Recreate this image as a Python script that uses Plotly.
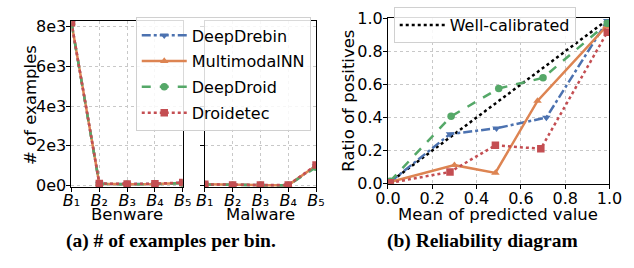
import plotly.graph_objects as go

# ---------------- data ----------------
bins = [1, 2, 3, 4, 5]
bin_labels = ["<i>B</i>₁", "<i>B</i>₂", "<i>B</i>₃", "<i>B</i>₄", "<i>B</i>₅"]
models = ["DeepDrebin", "MultimodalNN", "DeepDroid", "Droidetec"]

benware_counts = {
    "DeepDrebin":   [8200, 90, 70, 80, 130],
    "MultimodalNN": [8200, 90, 70, 80, 130],
    "DeepDroid":    [8150, 80, 60, 70, 120],
    "Droidetec":    [8200, 100, 80, 90, 150],
}
malware_counts = {
    "DeepDrebin":   [60, 25, 20, 20, 980],
    "MultimodalNN": [60, 25, 20, 20, 1000],
    "DeepDroid":    [50, 20, 15, 15, 920],
    "Droidetec":    [60, 30, 25, 25, 1030],
}

rel_x = {
    "DeepDrebin":   [0.01, 0.28, 0.49, 0.715, 0.99],
    "MultimodalNN": [0.01, 0.30, 0.485, 0.675, 0.985],
    "DeepDroid":    [0.01, 0.285, 0.50, 0.70, 0.99],
    "Droidetec":    [0.01, 0.28, 0.485, 0.69, 0.99],
}
rel_y = {
    "DeepDrebin":   [0.01, 0.30, 0.335, 0.40, 0.985],
    "MultimodalNN": [0.01, 0.112, 0.065, 0.50, 0.95],
    "DeepDroid":    [0.015, 0.407, 0.576, 0.64, 0.97],
    "Droidetec":    [0.005, 0.071, 0.232, 0.211, 0.916],
}
calib = [0.0, 1.0]

count_ticks = [0, 2000, 4000, 6000, 8000]
count_tick_text = ["0e0", "2e3", "4e3", "6e3", "8e3"]
ratio_ticks = [0.0, 0.2, 0.4, 0.6, 0.8, 1.0]
ratio_tick_text = ["0.0", "0.2", "0.4", "0.6", "0.8", "1.0"]

# ---------------- styles ----------------
colors = {"DeepDrebin": "#4C72B0", "MultimodalNN": "#DD8452",
          "DeepDroid": "#55A868", "Droidetec": "#C44E52"}
dashes = {"DeepDrebin": "dashdot", "MultimodalNN": "solid",
          "DeepDroid": "dash", "Droidetec": "dot"}
symbols = {"DeepDrebin": "triangle-down", "MultimodalNN": "triangle-up",
           "DeepDroid": "circle", "Droidetec": "square"}

FONT = "DejaVu Sans"
W, H = 634, 268

fig = go.Figure()

for m in models:
    common = dict(mode="lines+markers",
                  line=dict(color=colors[m], dash=dashes[m], width=2.5),
                  marker=dict(color=colors[m], symbol=symbols[m], size=7.5))
    fig.add_trace(go.Scatter(x=bins, y=benware_counts[m], name=m, legend="legend",
                             legendgroup=m, xaxis="x", yaxis="y", showlegend=True, **common))
    fig.add_trace(go.Scatter(x=bins, y=malware_counts[m], name=m, legend="legend",
                             legendgroup=m, xaxis="x2", yaxis="y2", showlegend=False, **common))

fig.add_trace(go.Scatter(x=calib, y=calib, name="Well-calibrated", mode="lines",
                         line=dict(color="black", dash="dot", width=2.5),
                         xaxis="x3", yaxis="y3", legend="legend2"))
for m in models:
    fig.add_trace(go.Scatter(x=rel_x[m], y=rel_y[m], name=m, mode="lines+markers",
                             line=dict(color=colors[m], dash=dashes[m], width=2.5),
                             marker=dict(color=colors[m], symbol=symbols[m], size=7.5),
                             xaxis="x3", yaxis="y3", showlegend=False))

def px_x(a, b):
    return [a / W, b / W]

def px_y(top, bottom):
    return [(H - bottom) / H, (H - top) / H]

def fx(px):
    return px / W

def fy(py):
    return (H - py) / H

axis_common = dict(showline=True, linecolor="black", linewidth=1.2, mirror=True,
                   ticks="outside", ticklen=4, tickcolor="black",
                   showgrid=True, gridcolor="#c8c8c8", griddash="dot", gridwidth=1,
                   zeroline=False, tickfont=dict(size=16, family=FONT, color="black"))

ylo, yhi = -94, 8280

title_font = dict(family=FONT, size=16.5, color="black")
annotations = [
    dict(text="Benware", x=fx(119), y=fy(221)),
    dict(text="Malware", x=fx(258), y=fy(221)),
    dict(text="Mean of predicted value", x=fx(506), y=fy(221)),
    dict(text="# of examples", x=fx(18), y=fy(103), textangle=-90),
    dict(text="Ratio of positives", x=fx(350), y=fy(99), textangle=-90),
]
for a in annotations:
    a.update(xref="paper", yref="paper", showarrow=False, xanchor="center",
             yanchor="middle", font=title_font)

cap_font = dict(family="Liberation Serif", size=19.5, color="black")
annotations += [
    dict(text="<b>(a) # of examples per bin.</b>", x=fx(165), y=fy(250),
         xref="paper", yref="paper", showarrow=False, xanchor="center", yanchor="middle",
         font=cap_font),
    dict(text="<b>(b) Reliability diagram</b>", x=fx(490), y=fy(250),
         xref="paper", yref="paper", showarrow=False, xanchor="center", yanchor="middle",
         font=cap_font),
]

fig.update_layout(
    width=W, height=H, margin=dict(l=0, r=0, t=0, b=0),
    paper_bgcolor="white", plot_bgcolor="white",
    font=dict(family=FONT, size=16, color="black"),
    xaxis=dict(domain=px_x(61, 177), range=[1, 5], tickvals=bins, ticktext=bin_labels,
               anchor="y", ticklabelstandoff=-6, **axis_common),
    yaxis=dict(domain=px_y(13, 192), range=[ylo, yhi], tickvals=count_ticks,
               ticktext=count_tick_text, anchor="x", ticklabelstandoff=-3, **axis_common),
    xaxis2=dict(domain=px_x(200, 316), range=[1, 5], tickvals=bins, ticktext=bin_labels,
                anchor="y2", ticklabelstandoff=-6, **axis_common),
    yaxis2=dict(domain=px_y(13, 192), range=[ylo, yhi], tickvals=count_ticks,
                showticklabels=False, anchor="x2", **axis_common),
    xaxis3=dict(domain=px_x(391, 622), range=[0, 1], tickvals=ratio_ticks,
                ticktext=ratio_tick_text, anchor="y3", ticklabelstandoff=-4, **axis_common),
    yaxis3=dict(domain=px_y(10, 188), range=[0, 1], tickvals=ratio_ticks,
                ticktext=ratio_tick_text, anchor="x3", ticklabelstandoff=-3, **axis_common),
    legend=dict(x=fx(128), y=fy(9), xanchor="left", yanchor="top",
                bgcolor="rgba(255,255,255,0.85)", bordercolor="#d0d0d0", borderwidth=1,
                font=dict(size=16, family=FONT), tracegroupgap=2, itemwidth=45),
    legend2=dict(x=fx(397), y=fy(-2), xanchor="left", yanchor="top",
                 bgcolor="rgba(255,255,255,0.85)", bordercolor="#d0d0d0", borderwidth=1,
                 font=dict(size=16, family=FONT), itemwidth=45),
    annotations=annotations,
)

fig.write_html("out.html", config={"displayModeBar": False},
               post_script="document.body.style.margin='0px';")
